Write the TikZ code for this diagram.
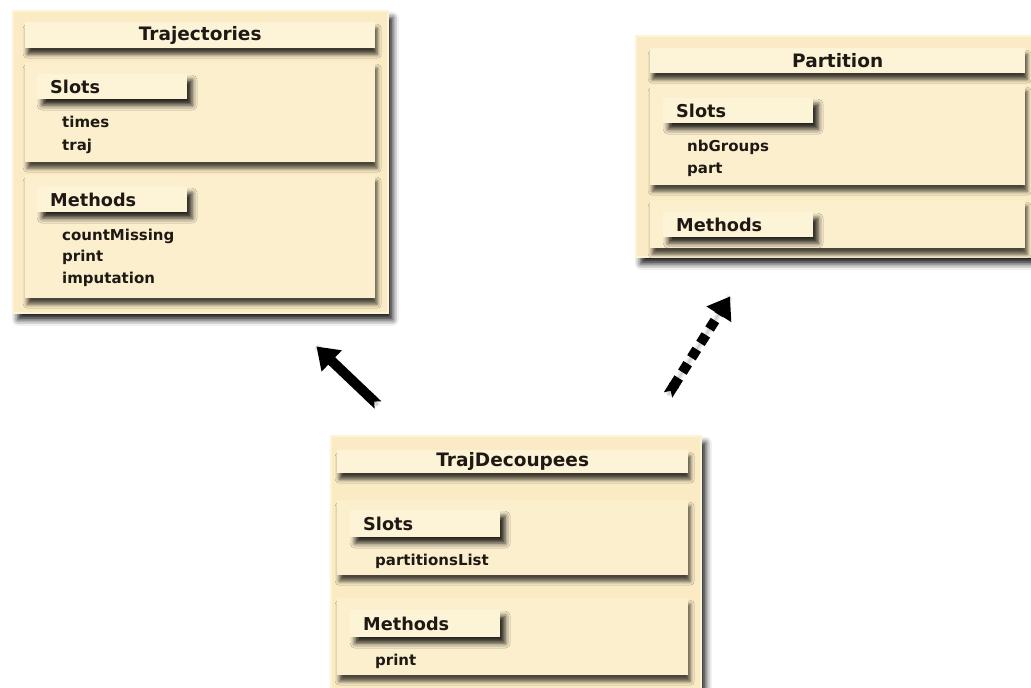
\documentclass[tikz,border=0pt]{standalone}
\usepackage{fontspec}
\setmainfont{DejaVu Sans}
\usepackage{tikz}
\usetikzlibrary{shadows.blur, arrows.meta, positioning}
\definecolor{paper}{RGB}{250,235,197}
\definecolor{cream}{RGB}{252,239,206}
\definecolor{barcream}{RGB}{253,243,214}
\definecolor{ink}{RGB}{30,25,20}
\tikzstyle{classbox} = [rectangle, anchor=north west, fill=paper, draw=barcream, line width=1.5pt, blur shadow={shadow xshift=5pt, shadow yshift=-7pt, shadow blur radius=6pt, shadow opacity=90}]
\tikzstyle{section} = [rectangle, anchor=north west, fill=cream, blur shadow={shadow xshift=2pt, shadow yshift=-6pt, shadow blur radius=4pt, shadow opacity=70}]
\tikzstyle{titlebar} = [rectangle, anchor=north west, fill=barcream, text=ink, font=\fontsize{18.5}{21}\selectfont\bfseries, inner sep=0pt, blur shadow={shadow xshift=2pt, shadow yshift=-6pt, shadow blur radius=4pt, shadow opacity=75}]
\tikzstyle{labelbar} = [rectangle, anchor=north west, fill=barcream, text=ink, minimum width=150pt, minimum height=25pt, text width=124pt, align=left, inner sep=0pt, font=\fontsize{17.7}{20}\selectfont\bfseries, blur shadow={shadow xshift=5pt, shadow yshift=-6pt, shadow blur radius=5pt, shadow opacity=85}]
\tikzstyle{item} = [anchor=west, text=ink, inner sep=0pt, text height=1.5ex, text depth=.25ex, font=\fontsize{15}{17}\selectfont\bfseries]
\tikzstyle{isa} = [line width=10pt, black, {Triangle Cap[reversed]}-{Triangle[width=28pt,length=21pt]}, blur shadow={shadow xshift=0pt, shadow yshift=0pt, shadow blur radius=4pt, shadow opacity=40}]
\tikzstyle{uses} = [isa, dash pattern=on 10pt off 7pt]

\begin{document}
\begin{tikzpicture}[x=1pt, y=-1pt]
  \useasboundingbox (0,0) rectangle (1031,688);

  % Trajectories
  \node (traj) [classbox, minimum width=375pt, minimum height=302pt] at (12,10) {};
  \node (trajTitle) [titlebar, minimum width=350pt, minimum height=26pt] at (25,22) {Trajectories};
  \node (trajSlots) [section, minimum width=350pt, minimum height=100pt] at (25,62) {};
  \node (trajSlotsLbl) [labelbar] at (37,74) {Slots};
  \node (trajTimes) [item] at (62,124) {times};
  \node (trajTraj) [item] at (62,147) {traj};
  \node (trajMeth) [section, minimum width=350pt, minimum height=123pt] at (25,175) {};
  \node (trajMethLbl) [labelbar] at (37,187) {Methods};
  \node (trajCount) [item] at (62,237) {countMissing};
  \node (trajPrint) [item] at (62,258) {print};
  \node (trajImput) [item] at (62,280) {imputation};

  % Partition
  \node (part) [classbox, minimum width=403pt, minimum height=221pt] at (635,35) {};
  \node (partTitle) [titlebar, minimum width=375pt, minimum height=25pt] at (650,48) {Partition};
  \node (partSlots) [section, minimum width=375pt, minimum height=100pt] at (650,85) {};
  \node (partSlotsLbl) [labelbar] at (663,98) {Slots};
  \node (partNb) [item] at (687,148) {nbGroups};
  \node (partPart) [item] at (687,170) {part};
  \node (partMeth) [section, minimum width=375pt, minimum height=48pt] at (650,200) {};
  \node (partMethLbl) [labelbar] at (663,212) {Methods};

  % TrajDecoupees
  \node (decoup) [classbox, minimum width=370pt, minimum height=258pt] at (330,435) {};
  \node (decoupTitle) [titlebar, minimum width=351pt, minimum height=23pt] at (337,450) {TrajDecoupees};
  \node (decoupSlots) [section, minimum width=351pt, minimum height=75pt] at (337,500) {};
  \node (decoupSlotsLbl) [labelbar, minimum height=27pt] at (350,510) {Slots};
  \node (decoupList) [item] at (375,562) {partitionsList};
  \node (decoupMeth) [section, minimum width=351pt, minimum height=77pt] at (337,598) {};
  \node (decoupMethLbl) [labelbar, minimum height=27pt] at (350,610) {Methods};
  \node (decoupPrint) [item] at (375,662) {print};

  \draw [isa] ([xshift=48pt, yshift=30pt]decoup.north west) -- ([xshift=-72pt, yshift=-33pt]traj.south east);
  \draw [uses] ([xshift=338pt, yshift=40pt]decoup.north west) -- ([xshift=95pt, yshift=-39pt]part.south west);
\end{tikzpicture}
\end{document}
